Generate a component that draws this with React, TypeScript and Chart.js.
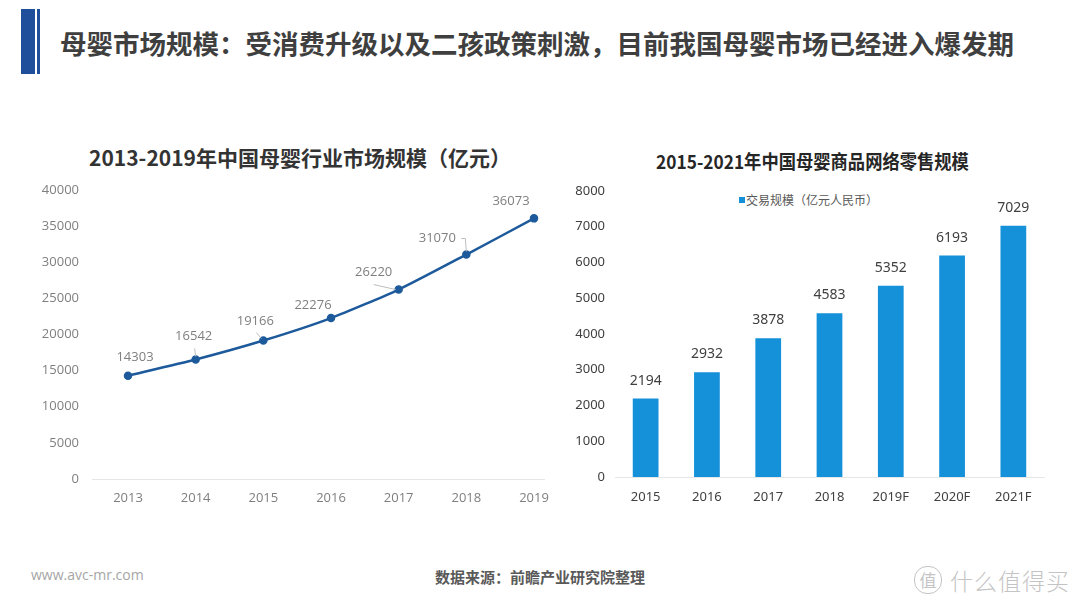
import React, { useEffect, useRef } from "react";
import { Chart, registerables } from "chart.js";

Chart.register(...registerables);

// ---- Data ----
const lineYears = ["2013", "2014", "2015", "2016", "2017", "2018", "2019"];
const marketSize = [14303, 16542, 19166, 22276, 26220, 31070, 36073];
const lineTicks = [0, 5000, 10000, 15000, 20000, 25000, 30000, 35000, 40000];

const barYears = ["2015", "2016", "2017", "2018", "2019F", "2020F", "2021F"];
const onlineRetail = [2194, 2932, 3878, 4583, 5352, 6193, 7029];
const barTicks = [0, 1000, 2000, 3000, 4000, 5000, 6000, 7000, 8000];

// label placement (layout only)
const lineLabelOffsets: [number, number][] = [
  [7, -18], [-2, -23], [-8, -19], [-18, -13], [-25, -17], [-29, -16], [-23, -17],
];
const leaderKinds = ["none", "v", "d", "none", "h", "hook", "none"];

const CJK = '"Noto Sans CJK SC", "Noto Sans", sans-serif';

const lineLabelPlugin = {
  id: "lineLabels",
  beforeDatasetsDraw(chart: any) {
    const { ctx, chartArea } = chart;
    ctx.save();
    ctx.strokeStyle = "#e6e6e6";
    ctx.lineWidth = 1;
    ctx.beginPath();
    ctx.moveTo(chartArea.left - 36, chartArea.bottom + 0.5);
    ctx.lineTo(chartArea.right + 11, chartArea.bottom + 0.5);
    ctx.stroke();
    ctx.restore();
  },
  afterDatasetsDraw(chart: any) {
    const { ctx } = chart;
    const meta = chart.getDatasetMeta(0);
    ctx.save();
    ctx.font = '13px "Open Sans", sans-serif';
    ctx.fillStyle = "#7f7f7f";
    ctx.textAlign = "center";
    ctx.textBaseline = "middle";
    ctx.strokeStyle = "#bdbdbd";
    ctx.lineWidth = 1;
    meta.data.forEach((pt: any, i: number) => {
      const [dx, dy] = lineLabelOffsets[i];
      const lx = pt.x + dx;
      const ly = pt.y + dy;
      ctx.fillText(String(marketSize[i]), lx, ly);
      const kind = leaderKinds[i];
      ctx.beginPath();
      if (kind === "v") {
        ctx.moveTo(pt.x - 1, ly + 12);
        ctx.lineTo(pt.x, pt.y - 3);
      } else if (kind === "d") {
        ctx.moveTo(lx + 1, ly + 11);
        ctx.lineTo(pt.x - 2, pt.y - 2);
      } else if (kind === "h") {
        ctx.moveTo(lx, ly + 12);
        ctx.lineTo(pt.x - 3, pt.y);
      } else if (kind === "hook") {
        ctx.moveTo(lx + 24, ly);
        ctx.lineTo(pt.x - 1, ly);
        ctx.lineTo(pt.x, pt.y - 3);
      }
      ctx.stroke();
    });
    ctx.restore();
  },
};

const barLabelPlugin = {
  id: "barLabels",
  afterDatasetsDraw(chart: any) {
    const { ctx } = chart;
    const meta = chart.getDatasetMeta(0);
    ctx.save();
    ctx.font = '14px "Noto Sans", sans-serif';
    ctx.fillStyle = "#404040";
    ctx.textAlign = "center";
    ctx.textBaseline = "middle";
    meta.data.forEach((bar: any, i: number) => {
      ctx.fillText(String(onlineRetail[i]), bar.x, bar.y - 18);
    });
    ctx.restore();
  },
};

function LineChart() {
  const ref = useRef<HTMLCanvasElement>(null);
  useEffect(() => {
    const chart = new Chart(ref.current!, {
      type: "line",
      data: {
        labels: lineYears,
        datasets: [
          {
            data: marketSize,
            borderColor: "#1d5a9b",
            backgroundColor: "#1d5a9b",
            borderWidth: 2.5,
            pointRadius: 3,
            pointBackgroundColor: "#1d5a9b",
            pointBorderColor: "#1d5a9b",
            tension: 0.2,
          },
        ],
      },
      options: {
        animation: false,
        responsive: true,
        maintainAspectRatio: false,
        layout: { padding: { left: 0, right: 26, top: 15, bottom: 6 } },
        plugins: { legend: { display: false }, tooltip: { enabled: false } },
        scales: {
          x: {
            offset: false,
            grid: { display: false, drawTicks: true, tickLength: 8 },
            border: { display: false },
            ticks: {
              color: "#7f7f7f",
              font: { family: '"Open Sans", sans-serif', size: 13 },
              padding: 3,
              maxRotation: 0,
            },
            afterFit: (s: any) => { s.height = 30; },
          },
          y: {
            min: 0,
            max: 40000,
            grid: { display: false, drawTicks: true, tickLength: 46 },
            border: { display: false },
            afterBuildTicks: (s: any) => { s.ticks = lineTicks.map((v) => ({ value: v })); },
            ticks: {
              color: "#7f7f7f",
              font: { family: '"Open Sans", sans-serif', size: 13 },
              padding: 3,
              callback: (v: any) => String(v),
            },
            afterFit: (s: any) => { s.width = 128; },
          },
        },
      },
      plugins: [lineLabelPlugin],
    });
    return () => chart.destroy();
  }, []);
  return <canvas ref={ref} />;
}

function BarChart() {
  const ref = useRef<HTMLCanvasElement>(null);
  useEffect(() => {
    const chart = new Chart(ref.current!, {
      type: "bar",
      data: {
        labels: barYears,
        datasets: [
          {
            label: "交易规模（亿元人民币）",
            data: onlineRetail,
            backgroundColor: "#1591da",
            barPercentage: 0.42,
            categoryPercentage: 1,
          },
        ],
      },
      options: {
        animation: false,
        responsive: true,
        maintainAspectRatio: false,
        layout: { padding: { left: 0, right: 36, top: 16, bottom: 8 } },
        plugins: { legend: { display: false }, tooltip: { enabled: false } },
        scales: {
          x: {
            grid: { display: false, drawTicks: true, tickLength: 9 },
            border: { display: true, color: "#e6e6e6" },
            ticks: {
              color: "#404040",
              font: { family: '"Noto Sans", sans-serif', size: 13 },
              padding: 3,
              maxRotation: 0,
            },
            afterFit: (s: any) => { s.height = 30; },
          },
          y: {
            min: 0,
            max: 8000,
            grid: { display: false, drawTicks: true, tickLength: 8 },
            border: { display: false },
            afterBuildTicks: (s: any) => { s.ticks = barTicks.map((v) => ({ value: v })); },
            ticks: {
              color: "#404040",
              font: { family: '"Noto Sans", sans-serif', size: 13 },
              padding: 2,
              callback: (v: any) => String(v),
            },
            afterFit: (s: any) => { s.width = 55; },
          },
        },
      },
      plugins: [barLabelPlugin],
    });
    return () => chart.destroy();
  }, []);
  return <canvas ref={ref} />;
}

const abs = (l: number, t: number, extra: React.CSSProperties = {}): React.CSSProperties => ({
  position: "absolute",
  left: l,
  top: t,
  ...extra,
});

export default function App() {
  return (
    <div
      style={{
        position: "absolute",
        left: 0,
        top: 0,
        width: 1080,
        height: 608,
        background: "#ffffff",
        overflow: "hidden",
        fontFamily: CJK,
      }}
    >
      {/* header bars */}
      <div style={abs(21, 9, { width: 14, height: 65, background: "#1f4e9b" })} />
      <div style={abs(37, 9, { width: 3, height: 65, background: "#1f4e9b" })} />
      <div
        style={abs(60, 28, {
          fontSize: 26.5,
          lineHeight: "30px",
          fontWeight: 700,
          color: "#3f3f3f",
          whiteSpace: "nowrap",
        })}
      >
        母婴市场规模：受消费升级以及二孩政策刺激，目前我国母婴市场已经进入爆发期
      </div>

      {/* left chart title */}
      <div
        style={abs(60, 144, {
          width: 480,
          textAlign: "center",
          fontSize: 21,
          lineHeight: "26px",
          fontWeight: 700,
          color: "#333333",
          whiteSpace: "nowrap",
        })}
      >
        2013-2019年中国母婴行业市场规模（亿元）
      </div>

      {/* right chart title */}
      <div
        style={abs(600, 149, {
          width: 425,
          textAlign: "center",
          fontSize: 19,
          lineHeight: "24px",
          fontWeight: 700,
          color: "#262626",
          whiteSpace: "nowrap",
          transform: "scaleX(0.91)",
        })}
      >
        2015-2021年中国母婴商品网络零售规模
      </div>

      {/* right chart legend */}
      <div style={abs(739, 197, { width: 6, height: 6, background: "#1591da" })} />
      <div
        style={abs(746, 192, {
          fontSize: 12,
          lineHeight: "16px",
          color: "#595959",
          whiteSpace: "nowrap",
        })}
      >
        交易规模（亿元人民币）
      </div>

      <div style={abs(0, 175, { width: 560, height: 340 })}>
        <LineChart />
      </div>
      <div style={abs(560, 175, { width: 520, height: 340 })}>
        <BarChart />
      </div>

      {/* footer */}
      <div
        style={abs(31, 566, {
          fontSize: 14,
          lineHeight: "18px",
          color: "#a6a6a6",
          fontFamily: '"Open Sans", sans-serif',
        })}
      >
        www.avc-mr.com
      </div>
      <div
        style={abs(340, 567, {
          width: 400,
          textAlign: "center",
          fontSize: 15,
          lineHeight: "20px",
          fontWeight: 700,
          color: "#595959",
        })}
      >
        数据来源：前瞻产业研究院整理
      </div>
      <div style={abs(914, 566, { display: "flex", alignItems: "center", color: "#c4c4c4" })}>
        <div
          style={{
            width: 26,
            height: 26,
            borderRadius: 13,
            border: "1.5px solid #c4c4c4",
            fontSize: 17,
            lineHeight: "26px",
            textAlign: "center",
            marginRight: 8,
          }}
        >
          值
        </div>
        <div style={{ fontSize: 23, lineHeight: "28px", fontWeight: 300, letterSpacing: 1 }}>什么值得买</div>
      </div>
    </div>
  );
}
